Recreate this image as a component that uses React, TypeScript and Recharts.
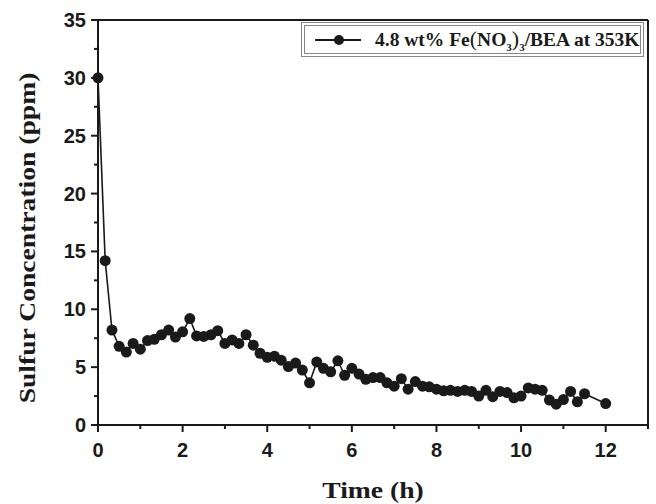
import { Line, LineChart, ReferenceLine, XAxis, YAxis } from "recharts";

const timeH = [
  0, 0.17, 0.33, 0.5, 0.67, 0.83, 1, 1.17, 1.33, 1.5, 1.67, 1.83, 2, 2.17, 2.33, 2.5, 2.67, 2.83,
  3, 3.17, 3.33, 3.5, 3.67, 3.83, 4, 4.17, 4.33, 4.5, 4.67, 4.83, 5, 5.17, 5.33, 5.5, 5.67, 5.83,
  6, 6.17, 6.33, 6.5, 6.67, 6.83, 7, 7.17, 7.33, 7.5, 7.67, 7.83, 8, 8.17, 8.33, 8.5, 8.67, 8.83,
  9, 9.17, 9.33, 9.5, 9.67, 9.83, 10, 10.17, 10.33, 10.5, 10.67, 10.83, 11, 11.17, 11.33, 11.5, 12,
];
const sulfurPpm = [
  30.0, 14.2, 8.2, 6.8, 6.3, 7.05, 6.55, 7.3, 7.4, 7.8, 8.2, 7.6, 8.05, 9.2, 7.7, 7.65, 7.8, 8.15,
  7.05, 7.35, 7.05, 7.8, 6.9, 6.2, 5.85, 5.95, 5.6, 5.05, 5.35, 4.75, 3.65, 5.45, 4.9, 4.6, 5.55, 4.3,
  4.9, 4.4, 3.95, 4.1, 4.1, 3.65, 3.35, 4.0, 3.1, 3.75, 3.35, 3.3, 3.1, 2.95, 3.0, 2.9, 3.0, 2.9,
  2.5, 3.0, 2.45, 2.9, 2.8, 2.35, 2.5, 3.2, 3.1, 3.0, 2.15, 1.8, 2.2, 2.9, 2.0, 2.7, 1.85,
];
const xTicks = [0, 1, 2, 3, 4, 5, 6, 7, 8, 9, 10, 11, 12, 13];
const yTicks = [0, 2.5, 5, 7.5, 10, 12.5, 15, 17.5, 20, 22.5, 25, 27.5, 30, 32.5, 35];

const data = timeH.map((t, i) => ({ t, s: sulfurPpm[i] }));

const INK = "#1a1a1a";
const tickFont = { fontFamily: "'Liberation Sans', Arial, sans-serif", fontWeight: 700, fontSize: 20 };
const serif = "'Liberation Serif', 'Times New Roman', serif";

const YTick = (props: any) => {
  const { x, y, payload } = props;
  const major = payload.value % 5 === 0;
  return (
    <g>
      <line x1={x} x2={x - (major ? 7 : 4)} y1={y} y2={y} stroke={INK} strokeWidth={2} />
      {major && (
        <text x={x - 12} y={y} textAnchor="end" dominantBaseline="central" fill={INK} {...tickFont}>
          {payload.value}
        </text>
      )}
    </g>
  );
};

const XTick = (props: any) => {
  const { x, y, payload } = props;
  const major = payload.value % 2 === 0 && payload.value <= 12;
  return (
    <g>
      <line x1={x} x2={x} y1={y} y2={y + (major ? 7 : 4)} stroke={INK} strokeWidth={2} />
      {major && (
        <text x={x} y={y + 25} textAnchor="middle" dominantBaseline="central" fill={INK} {...tickFont}>
          {payload.value}
        </text>
      )}
    </g>
  );
};

export default function App() {
  return (
    <div style={{ position: "absolute", left: 0, top: 0, width: 656, height: 504, background: "#fff" }}>
      <LineChart width={656} height={504} data={data} margin={{ top: 20, right: 8, bottom: 39, left: 28 }}>
        <XAxis
          dataKey="t"
          type="number"
          domain={[0, 13]}
          ticks={xTicks}
          interval={0}
          tick={XTick}
          tickLine={false}
          tickSize={0}
          tickMargin={0}
          height={40}
          stroke={INK}
          strokeWidth={2}
        />
        <YAxis
          type="number"
          domain={[0, 35]}
          ticks={yTicks}
          interval={0}
          tick={YTick}
          tickLine={false}
          tickSize={0}
          tickMargin={0}
          width={70}
          stroke={INK}
          strokeWidth={2}
        />
        <ReferenceLine y={35} stroke={INK} strokeWidth={2} />
        <ReferenceLine x={13} stroke={INK} strokeWidth={2} />
        <Line
          type="linear"
          dataKey="s"
          stroke={INK}
          strokeWidth={1.6}
          dot={{ r: 5.5, fill: INK, stroke: INK, strokeWidth: 0 }}
          isAnimationActive={false}
        />
      </LineChart>

      <div
        style={{
          position: "absolute",
          left: 301,
          top: 22,
          width: 343,
          height: 35,
          boxSizing: "border-box",
          border: "4px double #888",
          background: "#fff",
          display: "flex",
          alignItems: "center",
          fontFamily: serif,
          fontWeight: 700,
          fontSize: 19.5,
          color: INK,
          whiteSpace: "nowrap",
        }}
      >
        <svg width={60} height={20} style={{ marginLeft: 10, flex: "none" }}>
          <line x1={0} x2={46} y1={10} y2={10} stroke={INK} strokeWidth={2} />
          <circle cx={24} cy={10} r={5} fill={INK} />
        </svg>
        <span>
          4.8 wt% Fe<span style={{ fontWeight: 400, fontSize: 22 }}>(</span>NO
          <sub style={{ fontSize: 11 }}>3</sub>
          <span style={{ fontWeight: 400, fontSize: 22 }}>)</span>
          <sub style={{ fontSize: 11 }}>3</sub>/BEA at 353K
        </span>
      </div>

      <div
        style={{
          position: "absolute",
          left: 373,
          top: 490,
          transform: "translate(-50%, -50%) scaleX(1.15)",
          fontFamily: serif,
          fontWeight: 700,
          fontSize: 24,
          color: INK,
          whiteSpace: "nowrap",
        }}
      >
        Time (h)
      </div>

      <div
        style={{
          position: "absolute",
          left: 27,
          top: 238,
          transform: "translate(-50%, -50%) rotate(-90deg) scaleX(1.15)",
          fontFamily: serif,
          fontWeight: 700,
          fontSize: 24,
          color: INK,
          whiteSpace: "nowrap",
        }}
      >
        Sulfur Concentration (ppm)
      </div>
    </div>
  );
}
